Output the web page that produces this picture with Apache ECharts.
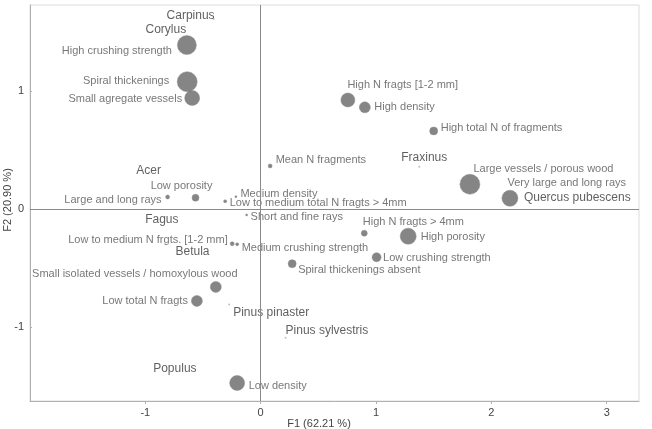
<!DOCTYPE html>
<html><head><meta charset="utf-8">
<script src="https://cdn.jsdelivr.net/npm/echarts@6/dist/echarts.min.js"></script>
<style>html,body{margin:0;padding:0;background:#fff}#c{width:652px;height:429px}</style>
</head><body><div id="c"></div>
<script>
// ---- data ----
const varNames = [
  'High crushing strength', 'Spiral thickenings', 'Small agregate vessels',
  'Large and long rays', 'Low porosity', 'Medium density',
  'Low to medium total N fragts > 4mm', 'Mean N fragments', 'Short and fine rays',
  'Low to medium N frgts. [1-2 mm]', 'Medium crushing strength', 'Spiral thickenings absent',
  'Small isolated vessels / homoxylous wood', 'Low total N fragts', 'Low density',
  'High N fragts > 4mm', 'High porosity', 'Low crushing strength',
  'High N fragts [1-2 mm]', 'High density', 'High total N of fragments',
  'Large vessels / porous wood', 'Very large and long rays'
];
const varF1 = [-0.640, -0.637, -0.594, -0.807, -0.565, -0.215, -0.308, 0.082, -0.122,
  -0.247, -0.204, 0.273, -0.389, -0.553, -0.204, 0.898, 1.279, 1.005, 0.756, 0.903, 1.500, 1.814, 2.161];
const varF2 = [1.392, 1.081, 0.943, 0.104, 0.098, 0.107, 0.068, 0.367, -0.048,
  -0.292, -0.297, -0.461, -0.658, -0.777, -1.472, -0.203, -0.229, -0.407, 0.926, 0.864, 0.664, 0.212, 0.093];
const varWeight = [0.95, 1.0, 0.75, 0.2, 0.35, 0.1, 0.15, 0.2, 0.1,
  0.2, 0.15, 0.4, 0.55, 0.55, 0.75, 0.3, 0.8, 0.45, 0.7, 0.55, 0.4, 1.0, 0.8];

const speciesNames = ['Carpinus', 'Corylus', 'Acer', 'Fagus', 'Betula', 'Populus',
  'Pinus pinaster', 'Pinus sylvestris', 'Fraxinus', 'Quercus pubescens'];
const speciesF1 = [-0.408, -0.822, -0.972, -0.857, -0.591, -0.744, -0.273, 0.216, 1.375, 2.161];
const speciesF2 = [1.613, 1.519, 0.325, -0.091, -0.359, -1.353, -0.808, -1.088, 0.361, 0.093];

const xTicks = [-1, 0, 1, 2, 3];
const yTicks = [-1, 0, 1];
const xTitle = 'F1 (62.21 %)';
const yTitle = 'F2 (20.90 %)';

// ---- label layout (style only): [anchor, dx, dy] ----
const varLabelLayout = {
  'High crushing strength': ['r', -15, 6],
  'Spiral thickenings': ['r', -18, -1],
  'Small agregate vessels': ['r', -10, 1],
  'Large and long rays': ['r', -6, 3],
  'Low porosity': ['c', -14, -12],
  'Medium density': ['l', 4.5, -2.5],
  'Low to medium total N fragts > 4mm': ['l', 4.5, 2],
  'Mean N fragments': ['l', 5.5, -6],
  'Short and fine rays': ['l', 4, 2.5],
  'Low to medium N frgts. [1-2 mm]': ['r', -4.5, -3.5],
  'Medium crushing strength': ['l', 4.5, 3.5],
  'Spiral thickenings absent': ['l', 6, 6.5],
  'Small isolated vessels / homoxylous wood': ['c', -81, -12.5],
  'Low total N fragts': ['r', -9, 0],
  'Low density': ['l', 11.5, 3.5],
  'High N fragts > 4mm': ['l', -1.5, -11],
  'High porosity': ['l', 12.5, 0.5],
  'Low crushing strength': ['l', 6.5, 1],
  'High N fragts [1-2 mm]': ['l', -0.5, -15],
  'High density': ['l', 9.5, -0.5],
  'High total N of fragments': ['l', 7, -3],
  'Large vessels / porous wood': ['l', 3.5, -15],
  'Very large and long rays': ['l', -2.5, -15.5]
};
const speciesLabelLayout = {
  'Carpinus': ['r', 1, -3.5],
  'Corylus': ['c', 0, 0],
  'Acer': ['c', 0, 0],
  'Fagus': ['c', 0, 0],
  'Betula': ['c', 0, 0],
  'Populus': ['c', 0, 0],
  'Pinus pinaster': ['l', 4, 8.5],
  'Pinus sylvestris': ['l', 0, -7],
  'Fraxinus': ['c', 5, -8.5],
  'Quercus pubescens': ['l', 14, -1]
};
const speciesDotVisible = ['Carpinus', 'Pinus pinaster', 'Pinus sylvestris', 'Fraxinus'];

function labelCfg(layout) {
  const pos = layout[0] === 'l' ? 'right' : layout[0] === 'r' ? 'left' : 'inside';
  return { show: true, position: pos, distance: 0, offset: [layout[1], layout[2]] };
}

const bubbleData = varNames.map((n, i) => ({ name: n, value: [varF1[i], varF2[i], varWeight[i]] }));
const varLabelData = varNames.map((n, i) => ({
  name: n, value: [varF1[i], varF2[i]], label: labelCfg(varLabelLayout[n])
}));
const speciesDotData = speciesNames.map((n, i) => ({
  name: n, value: [speciesF1[i], speciesF2[i]],
  symbolSize: speciesDotVisible.includes(n) ? 2 : 0
}));
const speciesLabelData = speciesNames.map((n, i) => ({
  name: n, value: [speciesF1[i], speciesF2[i]], label: labelCfg(speciesLabelLayout[n])
}));

const FONT = '"Liberation Sans", Arial, sans-serif';
const chart = echarts.init(document.getElementById('c'), null, { renderer: 'canvas' });
chart.setOption({
  animation: false,
  backgroundColor: '#fff',
  grid: { left: 30, right: 13, top: 5, bottom: 28, show: true, borderColor: '#dcdcdc', borderWidth: 1 },
  xAxis: {
    type: 'value', min: -2, max: 3.28,
    axisLine: { show: true, onZero: false, lineStyle: { color: '#b0b0b0', width: 1 } },
    axisTick: { show: true, customValues: xTicks, length: 3, lineStyle: { color: '#b0b0b0' } },
    axisLabel: { customValues: xTicks, color: '#444', fontSize: 11, fontFamily: FONT, margin: 6 },
    splitLine: { show: false }
  },
  yAxis: {
    type: 'value', min: -1.625, max: 1.731,
    axisLine: { show: true, onZero: false, lineStyle: { color: '#b0b0b0', width: 1 } },
    axisTick: { show: true, inside: true, customValues: yTicks, length: 2, lineStyle: { color: '#b0b0b0' } },
    axisLabel: { customValues: yTicks, color: '#444', fontSize: 11, fontFamily: FONT, margin: 6 },
    splitLine: { show: false }
  },
  graphic: [
    { type: 'text', x: 319, y: 424, style: { text: xTitle, fill: '#444', font: '11px ' + FONT, align: 'center', verticalAlign: 'middle' } },
    { type: 'text', x: 8, y: 200, rotation: Math.PI / 2, style: { text: yTitle, fill: '#444', font: '11px ' + FONT, align: 'center', verticalAlign: 'middle' } }
  ],
  series: [
    {
      type: 'scatter', data: speciesDotData, z: 1, silent: true,
      itemStyle: { color: '#b0b0b0' },
      markLine: {
        silent: true, symbol: ['none', 'none'], animation: false,
        lineStyle: { color: '#8a8a8a', width: 1, type: 'solid' },
        label: { show: false },
        data: [{ xAxis: 0 }, { yAxis: 0 }]
      }
    },
    {
      type: 'scatter', data: bubbleData, z: 2, silent: true,
      symbolSize: v => 20 * v[2],
      itemStyle: { color: '#666666', borderColor: '#8a8a8a', borderWidth: 0.6 }
    },
    {
      type: 'scatter', data: varLabelData, z: 3, silent: true, symbolSize: 0,
      label: { color: '#555', fontSize: 11, fontFamily: FONT, formatter: '{b}' }
    },
    {
      type: 'scatter', data: speciesLabelData, z: 3, silent: true, symbolSize: 0,
      label: { color: '#383838', fontSize: 12, fontFamily: FONT, formatter: '{b}' }
    }
  ]
});
</script></body></html>
